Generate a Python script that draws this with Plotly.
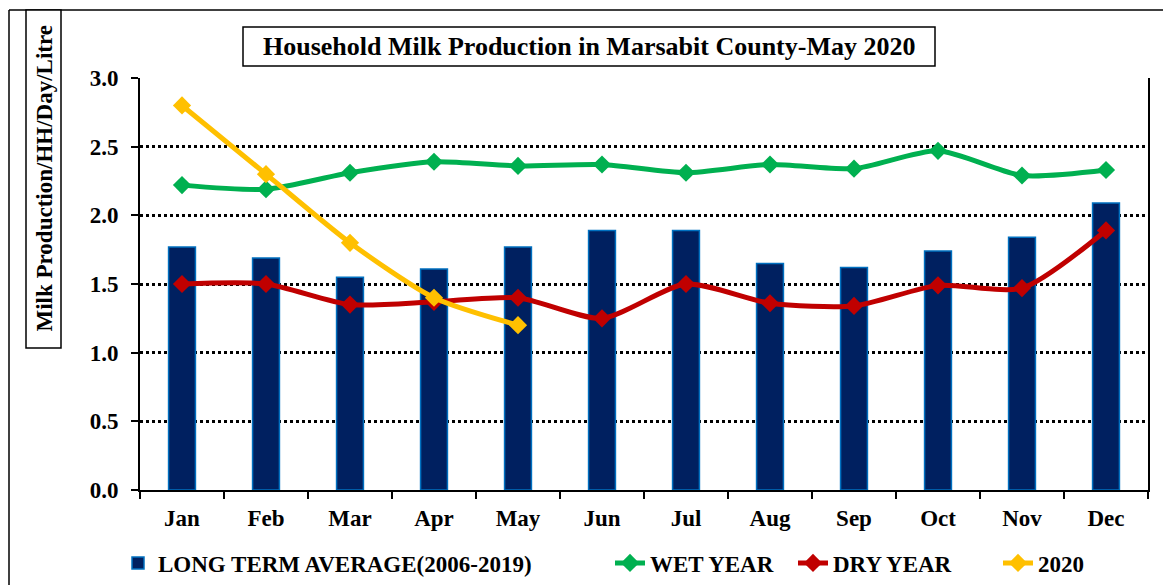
import plotly.graph_objects as go

months = ["Jan", "Feb", "Mar", "Apr", "May", "Jun", "Jul", "Aug", "Sep", "Oct", "Nov", "Dec"]
long_term_avg = [1.77, 1.69, 1.55, 1.61, 1.77, 1.89, 1.89, 1.65, 1.62, 1.74, 1.84, 2.09]
wet_year = [2.22, 2.19, 2.31, 2.39, 2.36, 2.37, 2.31, 2.37, 2.34, 2.47, 2.29, 2.33]
dry_year = [1.50, 1.50, 1.35, 1.37, 1.40, 1.25, 1.50, 1.36, 1.34, 1.49, 1.47, 1.89]
months_2020 = ["Jan", "Feb", "Mar", "Apr", "May"]
values_2020 = [2.80, 2.30, 1.80, 1.40, 1.20]
y_ticks = [0, 0.5, 1.0, 1.5, 2.0, 2.5, 3.0]
y_tick_labels = ["0.0", "0.5", "1.0", "1.5", "2.0", "2.5", "3.0"]

W, H = 1163, 585
L, R, T, B = 140, 15, 78, 95
PW, PH = W - L - R, H - T - B


def px(x):
    return (x - L) / PW


def py(y):
    return (H - B - y) / PH


FONT = "Liberation Serif"

fig = go.Figure()
fig.add_trace(go.Bar(
    x=months, y=long_term_avg, name="<b>LONG TERM AVERAGE(2006-2019)</b>",
    marker=dict(color="#002060", line=dict(color="#0070C0", width=1.5)),
    width=0.32, legend="legend",
))
line_specs = [
    ("WET YEAR", months, wet_year, "#00B050", "legend2"),
    ("DRY YEAR", months, dry_year, "#C00000", "legend3"),
    ("2020", months_2020, values_2020, "#FFC000", "legend4"),
]
for name, xs, ys, col, lg in line_specs:
    fig.add_trace(go.Scatter(
        x=xs, y=ys, name=f"<b>{name}</b>", mode="lines+markers",
        line=dict(color=col, width=5, shape="spline", smoothing=0.7),
        marker=dict(symbol="diamond", size=14, color=col),
        legend=lg,
    ))

shapes = [
    dict(type="line", xref="paper", yref="paper", x0=px(9), x1=px(9), y0=py(H + 5), y1=py(10),
         line=dict(color="black", width=1.5)),
    dict(type="line", xref="paper", yref="paper", x0=px(9), x1=px(W + 5), y0=py(10), y1=py(10),
         line=dict(color="black", width=1.5)),
    dict(type="rect", xref="paper", yref="paper", x0=px(26), x1=px(61), y0=py(10), y1=py(348),
         line=dict(color="black", width=1.5), fillcolor="white"),
    dict(type="rect", xref="paper", yref="paper", x0=px(243), x1=px(935), y0=py(27), y1=py(66),
         line=dict(color="black", width=1.5), fillcolor="white"),
]

annotations = [
    dict(text="<b>Household Milk Production in Marsabit County-May 2020</b>", xref="paper", yref="paper",
         x=px(589), y=py(46.5), showarrow=False, xanchor="center", yanchor="middle",
         font=dict(family=FONT, size=26, color="black")),
    dict(text="<b>Milk Production/HH/Day/Litre</b>", xref="paper", yref="paper",
         x=px(43.5), y=py(179), showarrow=False, xanchor="center", yanchor="middle", textangle=-90,
         font=dict(family=FONT, size=23, color="black")),
]

leg_common = dict(orientation="h", xanchor="left", yanchor="middle", y=py(563),
                  font=dict(family=FONT, size=23, color="black"), bgcolor="rgba(0,0,0,0)")

fig.update_layout(
    width=W, height=H,
    margin=dict(l=L, r=R, t=T, b=B, autoexpand=False),
    paper_bgcolor="white", plot_bgcolor="white",
    font=dict(family=FONT, color="black"),
    shapes=shapes, annotations=annotations,
    showlegend=True,
    legend=dict(x=px(118), **leg_common),
    legend2=dict(x=px(610), **leg_common),
    legend3=dict(x=px(793), **leg_common),
    legend4=dict(x=px(998), **leg_common),
)
fig.update_xaxes(
    type="category", categoryorder="array", categoryarray=months,
    showline=True, linecolor="black", linewidth=2,
    ticks="outside", tickson="boundaries", ticklen=7, tickwidth=2, tickcolor="black",
    tickfont=dict(family=FONT, size=23, color="black"),
    tickprefix="<b>", ticksuffix="</b>", ticklabelstandoff=6,
    showgrid=False, mirror=False, range=[-0.5, 11.5],
)
fig.update_yaxes(
    range=[0, 3.0], tickvals=y_ticks,
    ticktext=[f"<b>{t}</b>" for t in y_tick_labels],
    showline=True, linecolor="black", linewidth=2, mirror=True,
    ticks="outside", ticklen=7, tickwidth=2, tickcolor="black",
    tickfont=dict(family=FONT, size=23, color="black"),
    showgrid=True, gridcolor="black", gridwidth=3, griddash="3px,3px",
    zeroline=False, ticklabelstandoff=8,
)

fig.write_html("out.html", config={"displayModeBar": False},
               post_script="document.body.style.margin='0';")
